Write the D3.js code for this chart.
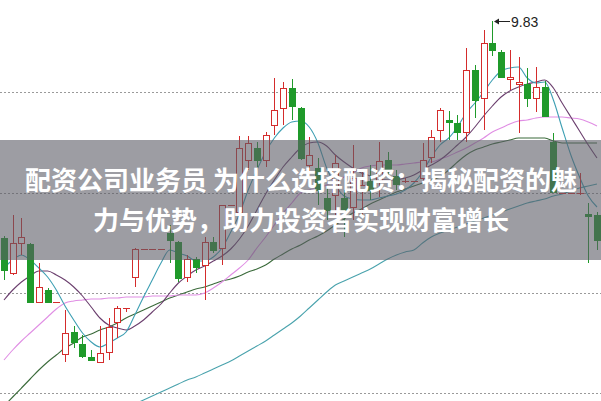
<!DOCTYPE html>
<html><head><meta charset="utf-8">
<script src="https://cdn.jsdelivr.net/npm/d3@7"></script>
<style>html,body{margin:0;padding:0;background:#fff;overflow:hidden}</style>
</head><body><svg id="c" width="601" height="401"></svg>
<script>
const openP = [8.745,8.57,8.72,8.715,8.425,8.485,8.425,8.165,8.275,8.215,8.15,8.125,8.175,8.325,8.395,8.55,8.69,8.69,8.69,8.77,8.725,8.55,8.64,8.61,8.725,8.695,8.91,8.875,9.135,9.195,9.135,9.31,9.395,9.495,9.395,9.11,9.095,8.945,8.96,8.945,8.90,8.985,9.03,9.025,9.135,9.055,9.03,9.03,9.045,9.15,9.285,9.335,9.32,9.275,9.585,9.445,9.72,9.675,9.54,9.515,9.515,9.445,9.50,9.225,8.97,8.97,8.97,8.865,8.86];
const closeP = [8.585,8.72,8.75,8.425,8.50,8.425,8.425,8.27,8.225,8.155,8.135,8.17,8.30,8.395,8.395,8.69,8.69,8.69,8.69,8.735,8.545,8.64,8.60,8.725,8.685,8.91,8.91,9.195,9.22,9.135,9.26,9.385,9.495,9.405,9.145,9.16,8.985,8.885,9.12,8.875,9.045,9.01,8.985,9.13,9.09,9.015,9.03,9.03,9.135,9.25,9.385,9.325,9.275,9.585,9.435,9.72,9.685,9.55,9.55,9.525,9.445,9.50,9.355,8.975,8.97,8.97,8.97,8.855,8.735];
const highP = [8.755,8.86,8.845,8.72,8.62,8.495,8.425,8.385,8.305,8.26,8.185,8.305,8.345,8.405,8.395,8.695,8.69,8.69,8.69,8.81,8.73,8.66,8.65,8.75,8.75,8.91,8.91,9.255,9.255,9.225,9.275,9.545,9.525,9.54,9.40,9.25,9.145,9.00,9.16,8.985,9.21,9.075,9.11,9.225,9.175,9.085,9.045,9.03,9.22,9.285,9.395,9.38,9.36,9.695,9.61,9.785,9.83,9.685,9.685,9.65,9.595,9.60,9.53,9.27,8.97,8.97,9.07,8.92,8.875];
const lowP = [8.535,8.56,8.66,8.425,8.42,8.425,8.425,8.125,8.195,8.145,8.13,8.125,8.135,8.245,8.375,8.50,8.69,8.69,8.69,8.62,8.525,8.525,8.57,8.435,8.67,8.61,8.91,8.86,9.085,9.10,9.10,9.26,9.31,9.335,9.135,9.075,8.91,8.835,8.86,8.75,8.835,8.86,8.935,8.95,9.045,8.985,9.02,9.03,9.02,9.12,9.225,9.235,9.235,9.225,9.345,9.285,9.655,9.545,9.485,9.27,9.40,9.375,9.35,8.97,8.97,8.97,8.96,8.62,8.685];

const ma5 = [8.595,8.635,8.66,8.635,8.595,8.55,8.485,8.405,8.335,8.27,8.225,8.20,8.22,8.245,8.275,8.36,8.45,8.535,8.62,8.685,8.67,8.655,8.63,8.63,8.65,8.695,8.775,8.865,8.985,9.085,9.175,9.245,9.295,9.325,9.33,9.30,9.22,9.095,9.01,8.955,8.94,8.935,8.935,8.945,8.955,8.965,8.985,9.02,9.075,9.15,9.21,9.245,9.30,9.37,9.42,9.475,9.535,9.58,9.595,9.60,9.545,9.52,9.525,9.435,9.295,9.16,9.05,8.955,8.90];
const ma10 = [8.435,8.485,8.525,8.555,8.58,8.58,8.56,8.535,8.50,8.455,8.40,8.345,8.31,8.295,8.285,8.305,8.335,8.375,8.415,8.47,8.52,8.555,8.585,8.605,8.63,8.655,8.69,8.74,8.805,8.885,8.965,9.035,9.10,9.15,9.195,9.22,9.225,9.205,9.16,9.125,9.095,9.07,9.055,9.04,9.035,9.035,9.045,9.06,9.085,9.11,9.135,9.17,9.21,9.25,9.30,9.355,9.405,9.45,9.48,9.50,9.515,9.525,9.535,9.495,9.42,9.35,9.28,9.21,9.145];
const ma20 = [8.135,8.185,8.23,8.27,8.31,8.35,8.39,8.42,8.43,8.435,8.44,8.44,8.445,8.445,8.45,8.45,8.45,8.455,8.455,8.455,8.46,8.46,8.46,8.47,8.495,8.525,8.56,8.595,8.635,8.695,8.75,8.81,8.87,8.92,8.97,8.985,8.995,9.01,9.03,9.05,9.07,9.095,9.105,9.11,9.11,9.11,9.115,9.12,9.125,9.125,9.14,9.155,9.175,9.195,9.22,9.245,9.275,9.295,9.315,9.33,9.335,9.345,9.35,9.35,9.35,9.345,9.34,9.325,9.305];
const ma30 = [7.905,7.95,7.995,8.04,8.085,8.125,8.16,8.195,8.22,8.25,8.265,8.285,8.30,8.32,8.345,8.365,8.385,8.405,8.425,8.445,8.46,8.475,8.49,8.50,8.515,8.53,8.54,8.555,8.575,8.59,8.61,8.64,8.665,8.69,8.71,8.735,8.755,8.78,8.81,8.84,8.87,8.89,8.915,8.935,8.955,8.975,8.99,9.005,9.02,9.035,9.05,9.085,9.125,9.16,9.185,9.20,9.215,9.225,9.235,9.245,9.245,9.245,9.245,9.23,9.22,9.22,9.22,9.22,9.22];
const ma60 = [null,null,null,null,null,null,null,null,null,null,null,null,null,null,null,7.915,7.935,7.955,7.975,7.995,8.015,8.035,8.05,8.07,8.09,8.11,8.13,8.155,8.18,8.205,8.23,8.26,8.29,8.32,8.355,8.395,8.435,8.475,8.51,8.53,8.55,8.57,8.59,8.615,8.64,8.66,8.675,8.685,8.72,8.75,8.77,8.785,8.80,8.815,8.83,8.845,8.86,8.875,8.89,8.905,8.92,8.93,8.94,8.955,8.965,8.98,8.995,9.005,9.015];

const gridPrices = [9.475, 8.97, 8.47, 7.97];
const titleLines = ["配资公司业务员 为什么选择配资：揭秘配资的魅", "力与优势，助力投资者实现财富增长"];

const W = 601, H = 401;
const svg = d3.select("#c");
const idx = d3.range(openP.length);
const x = d3.scalePoint().domain(idx).range([4, 597]);
const y = d3.scaleLinear().domain([7.97, 9.83]).range([393, 21]);

svg.append("defs").append("clipPath").attr("id","clip")
  .append("rect").attr("x",0).attr("y",0).attr("width",W).attr("height",H);

const RED = "#d42c2c", GREEN = "#1f9a2a";
const root = svg.append("g").attr("clip-path","url(#clip)");

// grid
root.append("g").selectAll("line").data(gridPrices).join("line")
  .attr("x1",0).attr("x2",W)
  .attr("y1",d=>Math.round(y(d))+0.5).attr("y2",d=>Math.round(y(d))+0.5)
  .attr("stroke","#9a9a9a").attr("stroke-width",1).attr("stroke-dasharray","2,2");

// moving averages
const maDefs = [
  {data: ma60, color: "#4aa3ad"},
  {data: ma30, color: "#3b6b3b"},
  {data: ma20, color: "#e08ee4"},
  {data: ma10, color: "#6b3f6e"},
  {data: ma5,  color: "#3d9fb3"}
];
const line = d3.line().defined(d=>d.v!=null).x(d=>x(d.i)).y(d=>y(d.v)).curve(d3.curveMonotoneX);
root.append("g").selectAll("path").data(maDefs).join("path")
  .attr("d", m => line(m.data.map((v,i)=>({i,v}))))
  .attr("fill","none").attr("stroke",m=>m.color).attr("stroke-width",1.1);

// candles
const candles = idx.map(i=>({i, o:openP[i], c:closeP[i], h:highP[i], l:lowP[i]}));
const cg = root.append("g");
candles.forEach(d=>{
  const cx = Math.round(x(d.i));
  const up = d.c >= d.o;
  const col = up ? RED : GREEN;
  const yTop = Math.round(y(Math.max(d.o,d.c)));
  const yBot = Math.round(y(Math.min(d.o,d.c)));
  if (d.h !== d.l) {
    cg.append("line").attr("x1",cx+0.5).attr("x2",cx+0.5)
      .attr("y1",Math.round(y(d.h))).attr("y2",Math.round(y(d.l)))
      .attr("stroke",col).attr("stroke-width",1);
  }
  if (yBot - yTop < 1) {
    cg.append("line").attr("x1",cx-3).attr("x2",cx+4)
      .attr("y1",yTop+0.5).attr("y2",yTop+0.5)
      .attr("stroke",col).attr("stroke-width",1);
  } else if (up) {
    cg.append("rect").attr("x",cx-2.5).attr("y",yTop+0.5)
      .attr("width",6).attr("height",yBot-yTop)
      .attr("fill","#fff").attr("stroke",col).attr("stroke-width",1);
  } else {
    cg.append("rect").attr("x",cx-3).attr("y",yTop)
      .attr("width",7).attr("height",yBot-yTop+1)
      .attr("fill",col);
  }
});

// max label
const maxI = d3.maxIndex(highP);
const mx = Math.round(x(maxI)) + 2, my = Math.round(y(highP[maxI])) + 0.5;
const lab = root.append("g");
lab.append("path").attr("d",`M${mx},${my}L${mx+5},${my-3}L${mx+5},${my+3}Z`).attr("fill","#222");
lab.append("line").attr("x1",mx+4).attr("x2",mx+16).attr("y1",my).attr("y2",my).attr("stroke","#222");
lab.append("text").attr("x",mx+17).attr("y",my).attr("dominant-baseline","central")
  .attr("font-family","Liberation Sans, Arial, sans-serif").attr("font-size",14).attr("fill","#222")
  .text(d3.format(".2f")(highP[maxI]));

// overlay band
svg.append("rect").attr("x",0).attr("y",140).attr("width",W).attr("height",120)
  .attr("fill","#5c5c66").attr("opacity",0.6);

// title
svg.append("g").selectAll("text").data(titleLines).join("text")
  .attr("x",301).attr("y",(d,i)=>190+i*40)
  .attr("text-anchor","middle")
  .attr("font-family","'Noto Sans CJK SC', sans-serif").attr("font-weight",700)
  .attr("font-size",26).attr("fill","#fff")
  .text(d=>d);
</script>
</body></html>
